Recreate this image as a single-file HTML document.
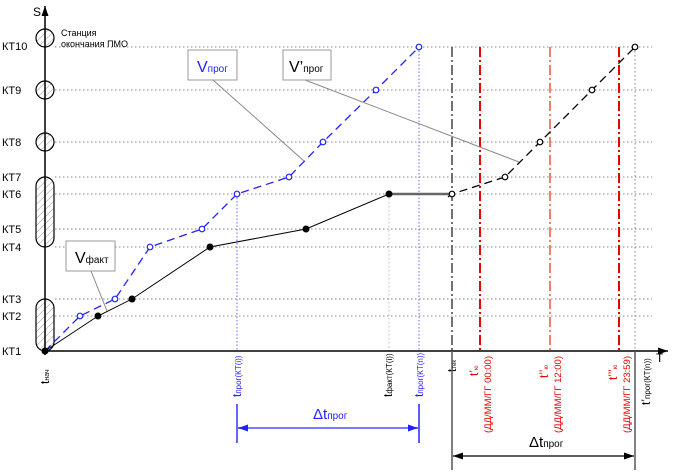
<!DOCTYPE html><html><head><meta charset="utf-8"><style>body{margin:0;background:#fff}svg{display:block;font-family:"Liberation Sans","DejaVu Sans",sans-serif}</style></head><body>
<svg width="674" height="473" viewBox="0 0 674 473" xmlns="http://www.w3.org/2000/svg">
<defs><pattern id="h" width="5" height="5" patternUnits="userSpaceOnUse" patternTransform="rotate(45)"><line x1="0" y1="0" x2="0" y2="5" stroke="#999" stroke-width="1"/></pattern>
<marker id="a" markerUnits="userSpaceOnUse" markerWidth="10" markerHeight="7" refX="10" refY="3.5" orient="auto"><path d="M0,0L10,3.5L0,7z" fill="#000"/></marker>
<marker id="ab" markerUnits="userSpaceOnUse" markerWidth="10" markerHeight="7" refX="10" refY="3.5" orient="auto"><path d="M0,0L10,3.5L0,7z" fill="#22f"/></marker>
<marker id="as" markerUnits="userSpaceOnUse" markerWidth="10" markerHeight="7" refX="0" refY="3.5" orient="auto"><path d="M10,0L0,3.5L10,7z" fill="#000"/></marker>
<marker id="asb" markerUnits="userSpaceOnUse" markerWidth="10" markerHeight="7" refX="0" refY="3.5" orient="auto"><path d="M10,0L0,3.5L10,7z" fill="#22f"/></marker></defs>
<g stroke="#888" stroke-dasharray="1.5,2.5" stroke-width="1">
<line x1="55" y1="47" x2="652" y2="47"/><line x1="55" y1="90" x2="652" y2="90"/><line x1="55" y1="142" x2="652" y2="142"/><line x1="55" y1="177" x2="652" y2="177"/><line x1="55" y1="194" x2="652" y2="194"/><line x1="55" y1="229" x2="652" y2="229"/><line x1="55" y1="247" x2="652" y2="247"/><line x1="55" y1="299" x2="652" y2="299"/><line x1="55" y1="316" x2="652" y2="316"/>
<line x1="389" y1="194" x2="389" y2="351" stroke="#bbb"/><line x1="635" y1="47" x2="635" y2="351"/>
</g>
<g stroke="#66f" stroke-dasharray="1.5,2" stroke-width="1"><line x1="237" y1="194" x2="237" y2="351"/><line x1="419" y1="47" x2="419" y2="351"/></g>
<line x1="452" y1="47" x2="452" y2="351" stroke="#444" stroke-width="1.5" stroke-dasharray="10,3,2,3"/>
<line x1="480" y1="47" x2="480" y2="351" stroke="#e00" stroke-width="2" stroke-dasharray="10,3,2,3"/>
<line x1="550" y1="47" x2="550" y2="351" stroke="#f08070" stroke-width="2" stroke-dasharray="10,3,2,3"/>
<line x1="619" y1="47" x2="619" y2="351" stroke="#e00" stroke-width="2" stroke-dasharray="10,3,2,3"/>
<g stroke="#000" fill="url(#h)" stroke-width="1.2">
<circle cx="45" cy="38" r="9"/><circle cx="45" cy="90" r="9"/><circle cx="45" cy="142" r="9"/>
<rect x="36" y="177" width="18" height="70" rx="9"/><rect x="36" y="299" width="18" height="52" rx="9"/></g>
<line x1="45" y1="355" x2="45" y2="6" stroke="#000" stroke-width="1.5" marker-end="url(#a)"/>
<line x1="45" y1="351" x2="668" y2="351" stroke="#000" stroke-width="1.5" marker-end="url(#a)"/>
<g font-size="11" fill="#000"><text x="2" y="50">КТ10</text><text x="2" y="94">КТ9</text><text x="2" y="146">КТ8</text><text x="2" y="181">КТ7</text><text x="2" y="198">КТ6</text><text x="2" y="233">КТ5</text><text x="2" y="251">КТ4</text><text x="2" y="303">КТ3</text><text x="2" y="320">КТ2</text><text x="2" y="355">КТ1</text>
<text x="33" y="16" font-size="12">S</text><text x="656" y="362" font-size="12">T</text>
<text x="61" y="36" font-size="9">Станция</text><text x="61" y="47" font-size="9">окончания ПМО</text></g>
<polyline points="45,351 80,316 115,299 150,247 202,229 237,194 289,177 323,142 376,90 419,47" fill="none" stroke="#22f" stroke-width="1.3" stroke-dasharray="8,5"/>
<polyline points="45,351 98,316 132,299 210,247 306,229 389,194" fill="none" stroke="#000" stroke-width="1"/>
<line x1="389" y1="194" x2="452" y2="194" stroke="#666" stroke-width="2.5"/>
<polyline points="448,197 452,194 505,177 540,142 592,90 635,47" fill="none" stroke="#000" stroke-width="1.3" stroke-dasharray="8,5"/>
<g fill="#fff" stroke="#22f" stroke-width="1.2"><circle cx="80" cy="316" r="2.8"/><circle cx="115" cy="299" r="2.8"/><circle cx="150" cy="247" r="2.8"/><circle cx="202" cy="229" r="2.8"/><circle cx="237" cy="194" r="2.8"/><circle cx="289" cy="177" r="2.8"/><circle cx="323" cy="142" r="2.8"/><circle cx="376" cy="90" r="2.8"/><circle cx="419" cy="47" r="2.8"/></g>
<g fill="#fff" stroke="#000" stroke-width="1.2"><circle cx="452" cy="194" r="2.8"/><circle cx="505" cy="177" r="2.8"/><circle cx="540" cy="142" r="2.8"/><circle cx="592" cy="90" r="2.8"/><circle cx="635" cy="47" r="2.8"/></g>
<g fill="#000"><circle cx="45" cy="351" r="3.5"/><circle cx="98" cy="316" r="3.5"/><circle cx="132" cy="299" r="3.5"/><circle cx="210" cy="247" r="3.5"/><circle cx="306" cy="229" r="3.5"/><circle cx="389" cy="194" r="3.5"/></g>
<g stroke="#888" stroke-width="1" fill="none"><line x1="213" y1="80" x2="304" y2="161"/><line x1="305" y1="80" x2="519" y2="162"/><line x1="91" y1="271" x2="107" y2="311"/></g>
<g fill="#fff" stroke="#999" stroke-width="1"><rect x="188" y="50" width="49" height="30"/><rect x="283" y="50" width="48" height="30"/><rect x="66" y="241" width="49" height="30"/></g>
<text x="197" y="72" font-size="16" fill="#22f">V<tspan font-size="10">прог</tspan></text>
<text x="289" y="72" font-size="16">V’<tspan font-size="10">прог</tspan></text>
<text x="75" y="263" font-size="16">V<tspan font-size="10">факт</tspan></text>
<g font-size="12">
<text transform="translate(49,384) rotate(-90)">t<tspan font-size="7">нач</tspan></text>
<text transform="translate(241,397) rotate(-90)" fill="#22f">t<tspan font-size="8">прог(КТ(i))</tspan></text>
<text transform="translate(392,397) rotate(-90)">t<tspan font-size="8">факт(КТ(i))</tspan></text>
<text transform="translate(423,397) rotate(-90)" fill="#22f">t<tspan font-size="8">прог(КТ(n))</tspan></text>
<text transform="translate(456,372) rotate(-90)">t<tspan font-size="6">тек</tspan></text>
<text transform="translate(478,376) rotate(-90)" fill="#e00">t’<tspan font-size="6">ю</tspan></text>
<text transform="translate(491,433) rotate(-90)" fill="#e00" font-size="9.5">(ДД/ММ/ГГ 00:00)</text>
<text transform="translate(548,378) rotate(-90)" fill="#e00">t’’<tspan font-size="6">ю</tspan></text>
<text transform="translate(561,433) rotate(-90)" fill="#e00" font-size="9.5">(ДД/ММ/ГГ 12:00)</text>
<text transform="translate(617,380) rotate(-90)" fill="#e00">t’’’<tspan font-size="6">ю</tspan></text>
<text transform="translate(630,433) rotate(-90)" fill="#e00" font-size="9.5">(ДД/ММ/ГГ 23:59)</text>
<text transform="translate(650,405) rotate(-90)">t’<tspan font-size="8">прог(КТ(n))</tspan></text>
</g>
<line x1="237" y1="404" x2="237" y2="443" stroke="#33f" stroke-width="1.5"/><line x1="419" y1="404" x2="419" y2="443" stroke="#22f" stroke-width="1.5"/>
<line x1="238" y1="428" x2="418" y2="428" stroke="#77f" stroke-width="2" marker-start="url(#asb)" marker-end="url(#ab)"/>
<text x="313" y="419" font-size="15" fill="#22f">Δt<tspan font-size="10">прог</tspan></text>
<line x1="452" y1="351" x2="452" y2="470" stroke="#555" stroke-width="1.5"/><line x1="635" y1="351" x2="635" y2="470" stroke="#555" stroke-width="1.5"/>
<line x1="453" y1="456" x2="634" y2="456" stroke="#000" stroke-width="1.3" marker-start="url(#as)" marker-end="url(#a)"/>
<text x="529" y="447" font-size="15">Δt<tspan font-size="10">прог</tspan></text>
</svg></body></html>
